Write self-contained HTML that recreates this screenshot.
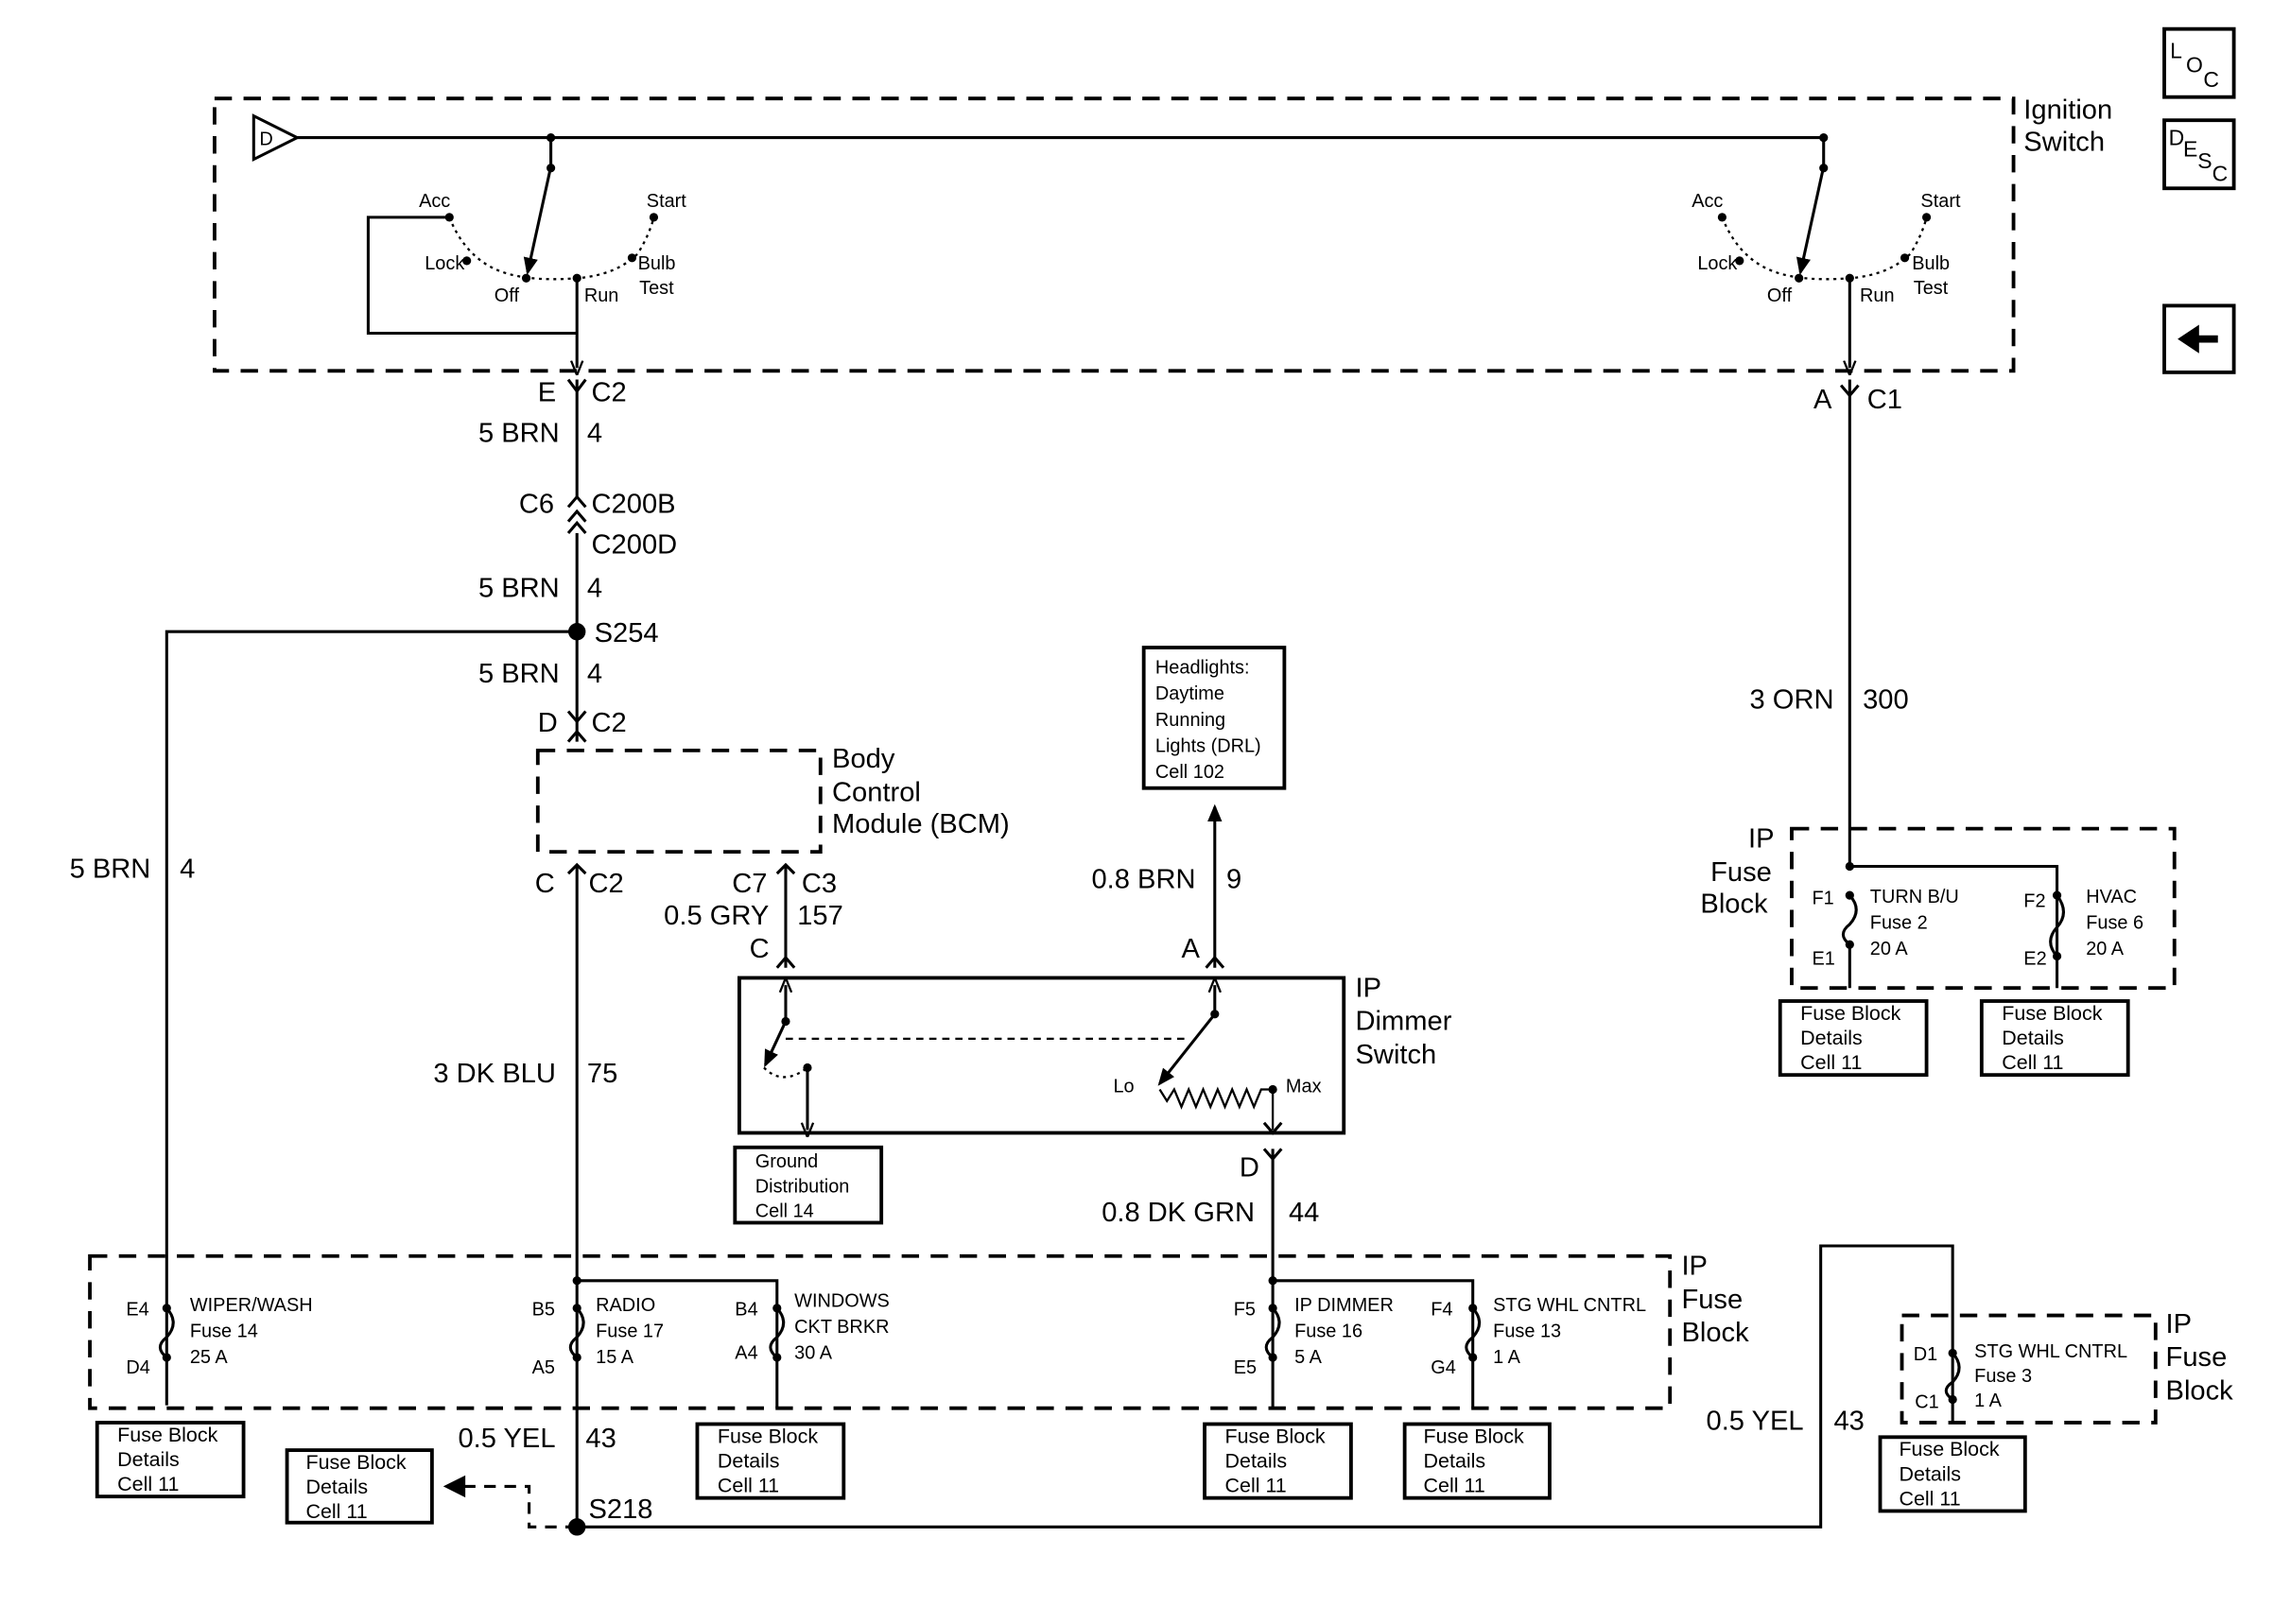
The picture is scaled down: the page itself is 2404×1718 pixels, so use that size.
<!DOCTYPE html>
<html><head><meta charset="utf-8"><style>html,body{margin:0;padding:0;background:#fff}svg{display:block}text{font-family:"Liberation Sans",sans-serif;fill:#000}</style></head>
<body>
<svg width="2404" height="1718" viewBox="0 0 1568 1121" preserveAspectRatio="none" xmlns="http://www.w3.org/2000/svg">
<defs>
<marker id="ah" markerWidth="10" markerHeight="10" refX="5" refY="5" orient="auto" markerUnits="userSpaceOnUse"><path d="M0,1 L10,5 L0,9" fill="none" stroke="#000" stroke-width="1.5"/></marker>
<marker id="af" markerWidth="12" markerHeight="12" refX="10" refY="6" orient="auto" markerUnits="userSpaceOnUse"><path d="M0,1 L12,6 L0,11z" fill="#000"/></marker>
</defs>
<g fill="none" stroke="#000" stroke-width="2">
<rect x="148" y="68" width="1241" height="188" stroke-dasharray="12,8" stroke-width="2.5"/>
<path d="M175,80 L205,95 L175,110z"/>
<path d="M205,95 H1258 M380,95 V115 M1258,95 V115"/>
<path d="M380,115 L364,188" marker-end="url(#af)"/>
<path d="M1258,115 L1242,188" marker-end="url(#af)"/>
<path d="M310,150 Q320,175 340,185 Q360,195 398,192 Q425,190 440,175 Q448,162 451,150" stroke-dasharray="2,3" stroke-width="1.5"/>
<path d="M1188,150 Q1198,175 1218,185 Q1238,195 1276,192 Q1303,190 1318,175 Q1326,162 1329,150" stroke-dasharray="2,3" stroke-width="1.5"/>
<path d="M310,150 H254 V230 H398"/>
<path d="M398,192 V254" marker-end="url(#ah)"/>
<path d="M1276,192 V254" marker-end="url(#ah)"/>
<path d="M398,262 V343 M398,368 V512 M398,597 V1054"/>
<path d="M392,262 L398,270 L404,262 M392,350 L398,343 L404,350 M392,360 L398,353 L404,360 M392,368 L398,361 L404,368"/>
<path d="M392,491 L398,498 L404,491 M392,512 L398,505 L404,512"/>
<path d="M392,603 L398,597 L404,603"/>
<path d="M398,436 H115 V970"/>
<rect x="371" y="518" width="195" height="70" stroke-dasharray="12,8" stroke-width="2.5"/>
<path d="M1276,262 V598 H1419 V682"/>
<path d="M1270,266 L1276,273 L1282,266"/>
<rect x="1236" y="572" width="264" height="110" stroke-dasharray="12,8" stroke-width="2.5"/>
<path d="M1276,618 Q1285,628 1276,638 Q1267,645 1276,652 V682"/>
<path d="M1419,618 Q1428,630 1419,640 Q1410,650 1419,660"/>
<path d="M542,597 V668 M536,603 L542,597 L548,603 M536,668 L542,661 L548,668"/>
<path d="M838,668 V557" marker-end="url(#af)"/>
<path d="M832,668 L838,661 L844,668"/>
<rect x="789" y="447" width="97" height="97" stroke-width="2.5"/>
<rect x="510" y="675" width="417" height="107" stroke-width="2.5"/>
<path d="M542,705 V680" marker-end="url(#ah)"/>
<path d="M542,705 L528,735" marker-end="url(#af)"/>
<path d="M542,717 H820" stroke-dasharray="5,4" stroke-width="1.5"/>
<path d="M527,737 Q540,750 557,737" stroke-dasharray="2,3" stroke-width="1.5"/>
<path d="M557,737 V780" marker-end="url(#ah)"/>
<path d="M838,700 V680" marker-end="url(#ah)"/>
<path d="M838,700 L800,748" marker-end="url(#af)"/>
<path d="M800,752 L805,760 L810,752 L815,764 L820,752 L825,764 L830,752 L835,764 L840,752 L845,764 L850,752 L855,764 L860,752 L865,764 L870,752 L878,752 V780" stroke-width="1.5"/>
<path d="M872,775 L878,782 L884,775"/>
<path d="M878,793 V972 M872,793 L878,800 L884,793"/>
<rect x="507" y="792" width="101" height="52" stroke-width="2.5"/>
<rect x="62" y="867" width="1090" height="105" stroke-dasharray="12,8" stroke-width="2.5"/>
<path d="M398,884 H536 V972 M878,884 H1016 V972"/>
<path d="M115,903 Q124,913 115,923 Q106,930 115,937"/>
<path d="M398,903 Q407,913 398,923 Q389,930 398,937"/>
<path d="M536,903 Q545,913 536,923 Q527,930 536,937"/>
<path d="M878,903 Q887,913 878,923 Q869,930 878,937"/>
<path d="M1016,903 Q1025,913 1016,923 Q1007,930 1016,937"/>
<path d="M398,1054 H1256 V860 H1347 V982"/>
<path d="M1347,934 Q1356,944 1347,954 Q1338,960 1347,966"/>
<rect x="1312" y="908" width="175" height="74" stroke-dasharray="12,8" stroke-width="2.5"/>
<path d="M398,1054 H365 V1026 H312" stroke-dasharray="8,6"/>
<path d="M320,1020 L308,1026 L320,1032z" fill="#000"/>
<g stroke-width="2.5">
<rect x="67" y="982" width="101" height="51"/>
<rect x="198" y="1001" width="100" height="50"/>
<rect x="481" y="983" width="101" height="51"/>
<rect x="831" y="983" width="101" height="51"/>
<rect x="969" y="983" width="100" height="51"/>
<rect x="1297" y="992" width="100" height="51"/>
<rect x="1228" y="691" width="101" height="51"/>
<rect x="1367" y="691" width="101" height="51"/>
<rect x="1493" y="20" width="48" height="47"/>
<rect x="1493" y="83" width="48" height="47"/>
<rect x="1493" y="211" width="48" height="46"/>
</g>
<path d="M1530,234 H1514" stroke-width="5"/>
<path d="M1516,226 L1504,234 L1516,242z" fill="#000"/>
</g>
<g fill="#000">
<circle cx="380" cy="95" r="3"/><circle cx="1258" cy="95" r="3"/>
<circle cx="380" cy="116" r="3"/><circle cx="1258" cy="116" r="3"/>
<circle cx="310" cy="150" r="3"/><circle cx="322" cy="180" r="3"/><circle cx="363" cy="192" r="3"/><circle cx="398" cy="192" r="3"/><circle cx="436" cy="178" r="3"/><circle cx="451" cy="150" r="3"/>
<circle cx="1188" cy="150" r="3"/><circle cx="1200" cy="180" r="3"/><circle cx="1241" cy="192" r="3"/><circle cx="1276" cy="192" r="3"/><circle cx="1314" cy="178" r="3"/><circle cx="1329" cy="150" r="3"/>
<circle cx="398" cy="436" r="6"/><circle cx="398" cy="1054" r="6"/>
<circle cx="1276" cy="598" r="3"/><circle cx="398" cy="884" r="3"/><circle cx="878" cy="884" r="3"/>
<circle cx="1276" cy="618" r="3"/><circle cx="1276" cy="652" r="3"/><circle cx="1419" cy="618" r="3"/><circle cx="1419" cy="660" r="3"/>
<circle cx="115" cy="903" r="3"/><circle cx="115" cy="937" r="3"/><circle cx="398" cy="903" r="3"/><circle cx="398" cy="937" r="3"/><circle cx="536" cy="903" r="3"/><circle cx="536" cy="937" r="3"/><circle cx="878" cy="903" r="3"/><circle cx="878" cy="937" r="3"/><circle cx="1016" cy="903" r="3"/><circle cx="1016" cy="937" r="3"/>
<circle cx="1347" cy="934" r="3"/><circle cx="1347" cy="966" r="3"/>
<circle cx="542" cy="705" r="3"/><circle cx="557" cy="737" r="3"/><circle cx="838" cy="700" r="3"/><circle cx="878" cy="752" r="3"/>
</g>
<g font-size="13">
<text x="179" y="100">D</text>
<text x="289" y="143">Acc</text><text x="446" y="143">Start</text><text x="293" y="186">Lock</text><text x="341" y="208">Off</text><text x="403" y="208">Run</text><text x="440" y="186">Bulb</text><text x="441" y="203">Test</text>
<text x="1167" y="143">Acc</text><text x="1325" y="143">Start</text><text x="1171" y="186">Lock</text><text x="1219" y="208">Off</text><text x="1283" y="208">Run</text><text x="1319" y="186">Bulb</text><text x="1320" y="203">Test</text>
<text x="797" y="465">Headlights:</text><text x="797" y="483">Daytime</text><text x="797" y="501">Running</text><text x="797" y="519">Lights (DRL)</text><text x="797" y="537">Cell 102</text>
<text x="1250" y="624">F1</text><text x="1250" y="666">E1</text><text x="1290" y="623">TURN B/U</text><text x="1290" y="641">Fuse 2</text><text x="1290" y="659">20 A</text>
<text x="1396" y="626">F2</text><text x="1396" y="666">E2</text><text x="1439" y="623">HVAC</text><text x="1439" y="641">Fuse 6</text><text x="1439" y="659">20 A</text>
<text x="768" y="754">Lo</text><text x="887" y="754">Max</text>
<text x="521" y="806">Ground</text><text x="521" y="823">Distribution</text><text x="521" y="840">Cell 14</text>
<text x="87" y="908">E4</text><text x="87" y="948">D4</text><text x="131" y="905">WIPER/WASH</text><text x="131" y="923">Fuse 14</text><text x="131" y="941">25 A</text>
<text x="367" y="908">B5</text><text x="367" y="948">A5</text><text x="411" y="905">RADIO</text><text x="411" y="923">Fuse 17</text><text x="411" y="941">15 A</text>
<text x="507" y="908">B4</text><text x="507" y="938">A4</text><text x="548" y="902">WINDOWS</text><text x="548" y="920">CKT BRKR</text><text x="548" y="938">30 A</text>
<text x="851" y="908">F5</text><text x="851" y="948">E5</text><text x="893" y="905">IP DIMMER</text><text x="893" y="923">Fuse 16</text><text x="893" y="941">5 A</text>
<text x="987" y="908">F4</text><text x="987" y="948">G4</text><text x="1030" y="905">STG WHL CNTRL</text><text x="1030" y="923">Fuse 13</text><text x="1030" y="941">1 A</text>
<text x="1320" y="939">D1</text><text x="1321" y="972">C1</text><text x="1362" y="937">STG WHL CNTRL</text><text x="1362" y="954">Fuse 3</text><text x="1362" y="971">1 A</text>
<g font-size="14">
<text x="81" y="995">Fuse Block</text><text x="81" y="1012">Details</text><text x="81" y="1029">Cell 11</text>
<text x="211" y="1014">Fuse Block</text><text x="211" y="1031">Details</text><text x="211" y="1048">Cell 11</text>
<text x="495" y="996">Fuse Block</text><text x="495" y="1013">Details</text><text x="495" y="1030">Cell 11</text>
<text x="845" y="996">Fuse Block</text><text x="845" y="1013">Details</text><text x="845" y="1030">Cell 11</text>
<text x="982" y="996">Fuse Block</text><text x="982" y="1013">Details</text><text x="982" y="1030">Cell 11</text>
<text x="1310" y="1005">Fuse Block</text><text x="1310" y="1022">Details</text><text x="1310" y="1039">Cell 11</text>
<text x="1242" y="704">Fuse Block</text><text x="1242" y="721">Details</text><text x="1242" y="738">Cell 11</text>
<text x="1381" y="704">Fuse Block</text><text x="1381" y="721">Details</text><text x="1381" y="738">Cell 11</text>
</g>
</g>
<g font-size="19">
<text x="1396" y="82">Ignition</text><text x="1396" y="104">Switch</text>
<text x="371" y="277">E</text><text x="408" y="277">C2</text>
<text x="330" y="305">5 BRN</text><text x="405" y="305">4</text>
<text x="358" y="354">C6</text><text x="408" y="354">C200B</text><text x="408" y="382">C200D</text>
<text x="330" y="412">5 BRN</text><text x="405" y="412">4</text>
<text x="410" y="443">S254</text>
<text x="330" y="471">5 BRN</text><text x="405" y="471">4</text>
<text x="371" y="505">D</text><text x="408" y="505">C2</text>
<text x="574" y="530">Body</text><text x="574" y="553">Control</text><text x="574" y="575">Module (BCM)</text>
<text x="48" y="606">5 BRN</text><text x="124" y="606">4</text>
<text x="369" y="616">C</text><text x="406" y="616">C2</text>
<text x="505" y="616">C7</text><text x="553" y="616">C3</text>
<text x="458" y="638">0.5 GRY</text><text x="550" y="638">157</text>
<text x="517" y="661">C</text>
<text x="753" y="613">0.8 BRN</text><text x="846" y="613">9</text>
<text x="815" y="661">A</text>
<text x="935" y="688">IP</text><text x="935" y="711">Dimmer</text><text x="935" y="734">Switch</text>
<text x="299" y="747">3 DK BLU</text><text x="405" y="747">75</text>
<text x="855" y="812">D</text>
<text x="760" y="843">0.8 DK GRN</text><text x="889" y="843">44</text>
<text x="1160" y="880">IP</text><text x="1160" y="903">Fuse</text><text x="1160" y="926">Block</text>
<text x="316" y="999">0.5 YEL</text><text x="404" y="999">43</text>
<text x="406" y="1048">S218</text>
<text x="1177" y="987">0.5 YEL</text><text x="1265" y="987">43</text>
<text x="1494" y="920">IP</text><text x="1494" y="943">Fuse</text><text x="1494" y="966">Block</text>
<text x="1251" y="282">A</text><text x="1288" y="282">C1</text>
<text x="1207" y="489">3 ORN</text><text x="1285" y="489">300</text>
<text x="1206" y="585">IP</text><text x="1180" y="608">Fuse</text><text x="1173" y="630">Block</text>
</g>
<g font-size="15"><text x="1497" y="40">L</text><text x="1508" y="50">O</text><text x="1520" y="60">C</text>
<text x="1496" y="100">D</text><text x="1506" y="108">E</text><text x="1516" y="116">S</text><text x="1526" y="125">C</text></g>
</svg>
</body></html>
